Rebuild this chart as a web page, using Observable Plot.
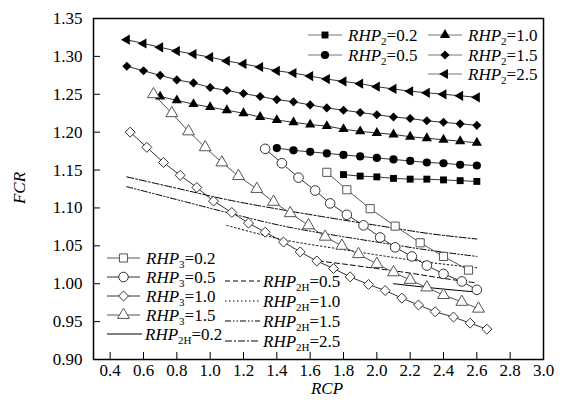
<!DOCTYPE html>
<html><head><meta charset="utf-8">
<script src="https://cdn.jsdelivr.net/npm/d3@7"></script>
<script src="https://cdn.jsdelivr.net/npm/@observablehq/plot@0.6"></script>
<style>
body{margin:0;background:#fff;}
#chart svg{display:block;}
</style>
</head><body><div id="chart"></div>
<script>
const serif = "'Liberation Serif','Times New Roman',Times,serif";

// Axis ticks
const xTicks = [0.4,0.6,0.8,1.0,1.2,1.4,1.6,1.8,2.0,2.2,2.4,2.6,2.8,3.0];
const yTicks = [0.90,0.95,1.00,1.05,1.10,1.15,1.20,1.25,1.30,1.35];

// RHP2 series (filled markers)
const x_RHP2_25 = [0.5,0.6,0.7,0.8,0.9,1.0,1.1,1.2,1.3,1.4,1.5,1.6,1.7,1.8,1.9,2.0,2.1,2.2,2.3,2.4,2.5,2.6];
const y_RHP2_25 = [1.322,1.317,1.312,1.307,1.303,1.299,1.294,1.290,1.286,1.281,1.278,1.274,1.270,1.267,1.264,1.260,1.257,1.254,1.252,1.250,1.248,1.246];
const x_RHP2_15 = [0.5,0.6,0.7,0.8,0.9,1.0,1.1,1.2,1.3,1.4,1.5,1.6,1.7,1.8,1.9,2.0,2.1,2.2,2.3,2.4,2.5,2.6];
const y_RHP2_15 = [1.287,1.281,1.275,1.269,1.265,1.259,1.255,1.251,1.247,1.243,1.240,1.236,1.232,1.229,1.226,1.223,1.220,1.218,1.215,1.213,1.211,1.209];
const x_RHP2_10 = [0.7,0.8,0.9,1.0,1.1,1.2,1.3,1.4,1.5,1.6,1.7,1.8,1.9,2.0,2.1,2.2,2.3,2.4,2.5,2.6];
const y_RHP2_10 = [1.247,1.242,1.237,1.233,1.229,1.225,1.220,1.216,1.213,1.210,1.208,1.204,1.201,1.199,1.197,1.194,1.192,1.190,1.188,1.186];
const x_RHP2_05 = [1.4,1.5,1.6,1.7,1.8,1.9,2.0,2.1,2.2,2.3,2.4,2.5,2.6];
const y_RHP2_05 = [1.179,1.176,1.174,1.172,1.170,1.168,1.166,1.164,1.162,1.160,1.159,1.157,1.156];
const x_RHP2_02 = [1.8,1.9,2.0,2.1,2.2,2.3,2.4,2.5,2.6];
const y_RHP2_02 = [1.144,1.142,1.141,1.139,1.138,1.138,1.137,1.136,1.135];

// RHP3 series (open markers)
const x_RHP3_02 = [1.70,1.82,1.96,2.11,2.26,2.40,2.55];
const y_RHP3_02 = [1.147,1.124,1.099,1.076,1.054,1.036,1.018];
const x_RHP3_05 = [1.33,1.43,1.53,1.63,1.72,1.82,1.92,2.02,2.11,2.21,2.30,2.40,2.51,2.60];
const y_RHP3_05 = [1.178,1.159,1.140,1.123,1.106,1.091,1.077,1.061,1.048,1.036,1.024,1.013,1.003,0.992];
const x_RHP3_10 = [0.52,0.62,0.72,0.82,0.92,1.02,1.13,1.23,1.33,1.44,1.54,1.64,1.74,1.84,1.95,2.05,2.15,2.25,2.35,2.46,2.56,2.66];
const y_RHP3_10 = [1.200,1.180,1.160,1.143,1.127,1.109,1.094,1.080,1.068,1.055,1.042,1.030,1.020,1.009,0.999,0.991,0.981,0.972,0.963,0.956,0.948,0.940];
const x_RHP3_15 = [0.66,0.77,0.87,0.97,1.07,1.17,1.28,1.38,1.48,1.59,1.69,1.79,1.89,2.00,2.10,2.20,2.30,2.40,2.51,2.61];
const y_RHP3_15 = [1.250,1.225,1.201,1.180,1.160,1.142,1.125,1.108,1.093,1.077,1.062,1.050,1.039,1.026,1.015,1.005,0.995,0.985,0.976,0.967];

// RHP2H series (lines only)
const x_RHP2H_02 = [2.10,2.35,2.60];
const y_RHP2H_02 = [1.000,0.994,0.989];
const x_RHP2H_05 = [1.65,1.80,2.00,2.20,2.40,2.60];
const y_RHP2H_05 = [1.030,1.026,1.020,1.014,1.007,1.001];
const x_RHP2H_10 = [1.10,1.42,1.80,2.00,2.32,2.60];
const y_RHP2H_10 = [1.077,1.059,1.045,1.038,1.028,1.021];
const x_RHP2H_15 = [0.50,0.80,1.10,1.42,1.80,2.00,2.32,2.60];
const y_RHP2H_15 = [1.128,1.111,1.094,1.077,1.062,1.055,1.044,1.036];
const x_RHP2H_25 = [0.50,0.80,1.10,1.42,1.80,2.00,2.32,2.60];
const y_RHP2H_25 = [1.141,1.126,1.111,1.098,1.084,1.077,1.066,1.059];

const rows = (xs, ys) => xs.map((x, i) => ({x, y: ys[i]}));

const sqrt3 = Math.sqrt(3);
const triangleLeft = {
  draw(context, size) {
    const y = -Math.sqrt(size / (sqrt3 * 3));
    context.moveTo(y * 2, 0);
    context.lineTo(-y, -sqrt3 * y);
    context.lineTo(-y, sqrt3 * y);
    context.closePath();
  }
};

const markerSeries = [
  {xs: x_RHP2_25, ys: y_RHP2_25, symbol: triangleLeft, r: 3.8, fill: "#000", stroke: "none", line: "#333", lab: ["RHP","2","=2.5"]},
  {xs: x_RHP2_15, ys: y_RHP2_15, symbol: "diamond2", r: 4.1, fill: "#000", stroke: "none", line: "#333", lab: ["RHP","2","=1.5"]},
  {xs: x_RHP2_10, ys: y_RHP2_10, symbol: "triangle", r: 3.8, fill: "#000", stroke: "none", line: "#333", lab: ["RHP","2","=1.0"]},
  {xs: x_RHP2_05, ys: y_RHP2_05, symbol: "circle", r: 4.1, fill: "#000", stroke: "none", line: "#333", lab: ["RHP","2","=0.5"]},
  {xs: x_RHP2_02, ys: y_RHP2_02, symbol: "square", r: 3.9, fill: "#000", stroke: "none", line: "#333", lab: ["RHP","2","=0.2"]},
  {xs: x_RHP3_02, ys: y_RHP3_02, symbol: "square", r: 4.6, fill: "#fff", stroke: "#555", line: "#555", lab: ["RHP","3","=0.2"]},
  {xs: x_RHP3_05, ys: y_RHP3_05, symbol: "circle", r: 4.8, fill: "#fff", stroke: "#333", line: "#333", lab: ["RHP","3","=0.5"]},
  {xs: x_RHP3_10, ys: y_RHP3_10, symbol: "diamond2", r: 4.5, fill: "#fff", stroke: "#333", line: "#333", lab: ["RHP","3","=1.0"]},
  {xs: x_RHP3_15, ys: y_RHP3_15, symbol: "triangle", r: 4.4, fill: "#fff", stroke: "#555", line: "#555", lab: ["RHP","3","=1.5"]}
];

const lineSeries = [
  {xs: x_RHP2H_02, ys: y_RHP2H_02, dash: null, lab: ["RHP","2H","=0.2"]},
  {xs: x_RHP2H_05, ys: y_RHP2H_05, dash: "5,3", lab: ["RHP","2H","=0.5"]},
  {xs: x_RHP2H_10, ys: y_RHP2H_10, dash: "1.5,2.5", lab: ["RHP","2H","=1.0"]},
  {xs: x_RHP2H_15, ys: y_RHP2H_15, dash: "6,2,1.5,2,1.5,2", lab: ["RHP","2H","=1.5"]},
  {xs: x_RHP2H_25, ys: y_RHP2H_25, dash: "7,2,2,2", lab: ["RHP","2H","=2.5"]}
];

const marks = [
  Plot.axisX({ticks: xTicks, tickSize: 0, tickPadding: 4, tickFormat: d3.format(".1f"), label: null, fontSize: 17, letterSpacing: -0.6}),
  Plot.axisY({ticks: yTicks, tickSize: 0, tickPadding: 11, tickFormat: d3.format(".2f"), label: null, fontSize: 17}),
  Plot.tickX(xTicks, {x: d => d, insetTop: 334, stroke: "#000", strokeWidth: 1}),
  Plot.tickY(yTicks, {y: d => d, insetRight: 443, stroke: "#000", strokeWidth: 1})
];
for (const s of lineSeries) {
  marks.push(Plot.line(rows(s.xs, s.ys), {x: "x", y: "y", stroke: "#000", strokeWidth: 1, strokeDasharray: s.dash, curve: "monotone-x"}));
}
for (const s of markerSeries) {
  marks.push(Plot.line(rows(s.xs, s.ys), {x: "x", y: "y", stroke: s.line, strokeWidth: 1}));
}
for (const s of markerSeries) {
  marks.push(Plot.dot(rows(s.xs, s.ys), {x: "x", y: "y", symbol: () => s.symbol, r: s.r, fill: s.fill, stroke: s.stroke, strokeWidth: 1}));
}
marks.push(Plot.frame({stroke: "#000", strokeWidth: 1.5}));

const plot = Plot.plot({
  width: 568, height: 412,
  marginLeft: 93, marginRight: 25, marginTop: 18, marginBottom: 53,
  x: {domain: [0.3, 3.0]},
  y: {domain: [0.90, 1.35]},
  symbol: {type: "identity"},
  style: {fontFamily: serif, fontSize: "17px", color: "#000", background: "#fff"},
  marks
});
document.getElementById("chart").appendChild(plot);

const svg = d3.select(plot);

// Axis titles
svg.append("text").attr("x", 327).attr("y", 394).attr("text-anchor", "middle")
  .style("font-family", serif).style("font-size", "17px").style("font-style", "italic").text("RCP");
svg.append("text").attr("transform", "translate(25,188) rotate(-90)").attr("text-anchor", "middle")
  .style("font-family", serif).style("font-size", "17px").style("font-style", "italic").text("FCR");

// Legend helpers
function label(g, x, y, lab) {
  const t = g.append("text").attr("x", x).attr("y", y + 6).attr("text-anchor", "start")
    .style("font-family", serif).style("font-size", "17px").attr("fill", "#000");
  t.append("tspan").style("font-style", "italic").text(lab[0]);
  t.append("tspan").attr("font-size", "11px").attr("dy", 4).text(lab[1]);
  t.append("tspan").attr("dy", -4).text(lab[2]);
}
function markerEntry(x0, x1, y, s) {
  const g = svg.append("g");
  g.append("line").attr("x1", x0).attr("x2", x1).attr("y1", y).attr("y2", y)
    .attr("stroke", s.fill === "#000" ? "#777" : s.line).attr("stroke-width", 1);
  const sym = typeof s.symbol === "string"
    ? {circle: d3.symbolCircle, square: d3.symbolSquare, diamond2: d3.symbolDiamond2, triangle: d3.symbolTriangle}[s.symbol]
    : s.symbol;
  g.append("path").attr("d", d3.symbol(sym, s.r * s.r * Math.PI)())
    .attr("transform", `translate(${(x0 + x1) / 2},${y})`)
    .attr("fill", s.fill).attr("stroke", s.stroke === "none" ? null : s.stroke).attr("stroke-width", 1);
  label(g, x1 + 6, y, s.lab);
}
function lineEntry(x0, x1, y, s) {
  const g = svg.append("g");
  g.append("line").attr("x1", x0).attr("x2", x1).attr("y1", y).attr("y2", y)
    .attr("stroke", "#000").attr("stroke-width", 1).attr("stroke-dasharray", s.dash);
  label(g, x1 + 3, y, s.lab);
}

// Top-right legend (RHP2)
const [m25, m15, m10, m05, m02, o02, o05, o10, o15] = markerSeries;
markerEntry(308, 342, 35, m02);
markerEntry(428, 462, 35, m10);
markerEntry(308, 342, 55, m05);
markerEntry(428, 462, 55, m15);
markerEntry(428, 462, 74, m25);

// Bottom-left legend
markerEntry(107, 140, 258, o02);
markerEntry(107, 140, 277, o05);
markerEntry(107, 140, 296, o10);
markerEntry(107, 140, 315, o15);
lineEntry(107, 142, 334, lineSeries[0]);
lineEntry(225, 260, 281, lineSeries[1]);
lineEntry(225, 260, 301, lineSeries[2]);
lineEntry(225, 260, 321, lineSeries[3]);
lineEntry(225, 260, 341, lineSeries[4]);
</script>
</body></html>
